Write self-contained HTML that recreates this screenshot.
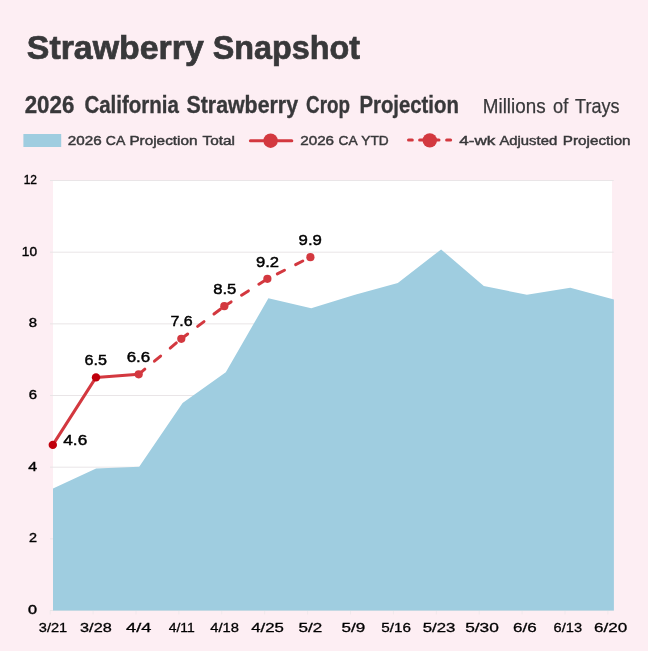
<!DOCTYPE html>
<html><head><meta charset="utf-8"><title>Strawberry Snapshot</title>
<style>
html,body{margin:0;padding:0;background:#fdeef3;}
body{width:648px;height:651px;overflow:hidden;font-family:"Liberation Sans",sans-serif;}
svg{display:block;will-change:transform;font-family:"Liberation Sans",sans-serif;}
</style></head><body>
<svg width="648" height="651" viewBox="0 0 648 651">
<rect x="0" y="0" width="648" height="651" fill="#fdeef3"/>
<text x="26.8" y="59.0" font-size="33" text-anchor="start" font-weight="bold" fill="#38383a" textLength="177.0" lengthAdjust="spacingAndGlyphs" stroke="#38383a" stroke-width="0.7">Strawberry</text>
<text x="212.8" y="59.0" font-size="33" text-anchor="start" font-weight="bold" fill="#38383a" textLength="147.2" lengthAdjust="spacingAndGlyphs" stroke="#38383a" stroke-width="0.7">Snapshot</text>
<text x="24.7" y="112.9" font-size="24" text-anchor="start" font-weight="bold" fill="#38383a" textLength="49.6" lengthAdjust="spacingAndGlyphs" stroke="#38383a" stroke-width="0.35">2026</text>
<text x="84.4" y="112.9" font-size="24" text-anchor="start" font-weight="bold" fill="#38383a" textLength="94.5" lengthAdjust="spacingAndGlyphs" stroke="#38383a" stroke-width="0.35">California</text>
<text x="186.5" y="112.9" font-size="24" text-anchor="start" font-weight="bold" fill="#38383a" textLength="111.5" lengthAdjust="spacingAndGlyphs" stroke="#38383a" stroke-width="0.35">Strawberry</text>
<text x="306.1" y="112.9" font-size="24" text-anchor="start" font-weight="bold" fill="#38383a" textLength="43.9" lengthAdjust="spacingAndGlyphs" stroke="#38383a" stroke-width="0.35">Crop</text>
<text x="359.4" y="112.9" font-size="24" text-anchor="start" font-weight="bold" fill="#38383a" textLength="99.5" lengthAdjust="spacingAndGlyphs" stroke="#38383a" stroke-width="0.35">Projection</text>
<text x="482.8" y="112.7" font-size="20.5" text-anchor="start" font-weight="normal" fill="#38383a" textLength="62.8" lengthAdjust="spacingAndGlyphs" stroke="#38383a" stroke-width="0.25">Millions</text>
<text x="553.1" y="112.7" font-size="20.5" text-anchor="start" font-weight="normal" fill="#38383a" textLength="15.2" lengthAdjust="spacingAndGlyphs" stroke="#38383a" stroke-width="0.25">of</text>
<text x="575.1" y="112.7" font-size="20.5" text-anchor="start" font-weight="normal" fill="#38383a" textLength="44.4" lengthAdjust="spacingAndGlyphs" stroke="#38383a" stroke-width="0.25">Trays</text>
<rect x="23.4" y="134" width="37.8" height="13" fill="#9fcde0"/>
<text x="67.8" y="145.1" font-size="13.4" text-anchor="start" font-weight="normal" fill="#38383a" textLength="33.9" lengthAdjust="spacingAndGlyphs" stroke="#38383a" stroke-width="0.45">2026</text>
<text x="105.8" y="145.1" font-size="13.4" text-anchor="start" font-weight="normal" fill="#38383a" textLength="19.5" lengthAdjust="spacingAndGlyphs" stroke="#38383a" stroke-width="0.45">CA</text>
<text x="129.4" y="145.1" font-size="13.4" text-anchor="start" font-weight="normal" fill="#38383a" textLength="68.1" lengthAdjust="spacingAndGlyphs" stroke="#38383a" stroke-width="0.45">Projection</text>
<text x="202.5" y="145.1" font-size="13.4" text-anchor="start" font-weight="normal" fill="#38383a" textLength="32.5" lengthAdjust="spacingAndGlyphs" stroke="#38383a" stroke-width="0.45">Total</text>
<line x1="250.4" y1="140.7" x2="291.8" y2="140.7" stroke="#d3383f" stroke-width="3" stroke-linecap="round"/>
<circle cx="270.6" cy="140.7" r="7.2" fill="#d3383f"/>
<text x="300.2" y="145.1" font-size="13.4" text-anchor="start" font-weight="normal" fill="#38383a" textLength="33.9" lengthAdjust="spacingAndGlyphs" stroke="#38383a" stroke-width="0.45">2026</text>
<text x="338.5" y="145.1" font-size="13.4" text-anchor="start" font-weight="normal" fill="#38383a" textLength="19.1" lengthAdjust="spacingAndGlyphs" stroke="#38383a" stroke-width="0.45">CA</text>
<text x="361.3" y="145.1" font-size="13.4" text-anchor="start" font-weight="normal" fill="#38383a" textLength="27.4" lengthAdjust="spacingAndGlyphs" stroke="#38383a" stroke-width="0.45">YTD</text>
<line x1="408.5" y1="140" x2="412.3" y2="140" stroke="#d3383f" stroke-width="3" stroke-linecap="round"/>
<line x1="419.6" y1="140" x2="439.0" y2="140" stroke="#d3383f" stroke-width="3" stroke-linecap="round"/>
<line x1="446.6" y1="140" x2="450.6" y2="140" stroke="#d3383f" stroke-width="3" stroke-linecap="round"/>
<circle cx="429.8" cy="140.4" r="7.2" fill="#d3383f"/>
<text x="459.2" y="145.1" font-size="13.4" text-anchor="start" font-weight="normal" fill="#38383a" textLength="36.1" lengthAdjust="spacingAndGlyphs" stroke="#38383a" stroke-width="0.45">4-wk</text>
<text x="499.4" y="145.1" font-size="13.4" text-anchor="start" font-weight="normal" fill="#38383a" textLength="57.8" lengthAdjust="spacingAndGlyphs" stroke="#38383a" stroke-width="0.45">Adjusted</text>
<text x="562.8" y="145.1" font-size="13.4" text-anchor="start" font-weight="normal" fill="#38383a" textLength="67.8" lengthAdjust="spacingAndGlyphs" stroke="#38383a" stroke-width="0.45">Projection</text>
<rect x="53" y="180.5" width="559" height="430" fill="#ffffff"/>
<line x1="50" y1="610.50" x2="613.7" y2="610.50" stroke="#e9e5e7" stroke-width="1"/>
<line x1="50" y1="538.84" x2="613.7" y2="538.84" stroke="#e9e5e7" stroke-width="1"/>
<line x1="50" y1="467.18" x2="613.7" y2="467.18" stroke="#e9e5e7" stroke-width="1"/>
<line x1="50" y1="395.52" x2="613.7" y2="395.52" stroke="#e9e5e7" stroke-width="1"/>
<line x1="50" y1="323.86" x2="613.7" y2="323.86" stroke="#e9e5e7" stroke-width="1"/>
<line x1="50" y1="252.20" x2="613.7" y2="252.20" stroke="#e9e5e7" stroke-width="1"/>
<line x1="50" y1="180.54" x2="613.7" y2="180.54" stroke="#e9e5e7" stroke-width="1"/>
<line x1="50.20" y1="610.5" x2="50.20" y2="614.5" stroke="#e9e5e7" stroke-width="1" opacity="0.6"/>
<line x1="93.10" y1="610.5" x2="93.10" y2="614.5" stroke="#e9e5e7" stroke-width="1" opacity="0.6"/>
<line x1="136.00" y1="610.5" x2="136.00" y2="614.5" stroke="#e9e5e7" stroke-width="1" opacity="0.6"/>
<line x1="178.90" y1="610.5" x2="178.90" y2="614.5" stroke="#e9e5e7" stroke-width="1" opacity="0.6"/>
<line x1="221.80" y1="610.5" x2="221.80" y2="614.5" stroke="#e9e5e7" stroke-width="1" opacity="0.6"/>
<line x1="264.70" y1="610.5" x2="264.70" y2="614.5" stroke="#e9e5e7" stroke-width="1" opacity="0.6"/>
<line x1="307.60" y1="610.5" x2="307.60" y2="614.5" stroke="#e9e5e7" stroke-width="1" opacity="0.6"/>
<line x1="350.50" y1="610.5" x2="350.50" y2="614.5" stroke="#e9e5e7" stroke-width="1" opacity="0.6"/>
<line x1="393.40" y1="610.5" x2="393.40" y2="614.5" stroke="#e9e5e7" stroke-width="1" opacity="0.6"/>
<line x1="436.30" y1="610.5" x2="436.30" y2="614.5" stroke="#e9e5e7" stroke-width="1" opacity="0.6"/>
<line x1="479.20" y1="610.5" x2="479.20" y2="614.5" stroke="#e9e5e7" stroke-width="1" opacity="0.6"/>
<line x1="522.10" y1="610.5" x2="522.10" y2="614.5" stroke="#e9e5e7" stroke-width="1" opacity="0.6"/>
<line x1="565.00" y1="610.5" x2="565.00" y2="614.5" stroke="#e9e5e7" stroke-width="1" opacity="0.6"/>
<line x1="607.90" y1="610.5" x2="607.90" y2="614.5" stroke="#e9e5e7" stroke-width="1" opacity="0.6"/>
<polygon points="53,610.5 53.0,488.4 96.1,468.6 139.2,466.7 182.6,402.9 225.8,372.2 268.4,298.3 311.2,308.2 355.0,294.8 397.8,282.9 441.1,249.4 483.8,286.1 526.9,294.7 570.3,287.8 613.9,299.4 613.9,610.5" fill="#9fcde0"/>
<text x="37" y="184.04" font-size="13.4" text-anchor="end" font-weight="normal" fill="#000" textLength="13.3" lengthAdjust="spacingAndGlyphs" stroke="#000" stroke-width="0.4">12</text>
<text x="37" y="255.70" font-size="13.4" text-anchor="end" font-weight="normal" fill="#000" textLength="15.2" lengthAdjust="spacingAndGlyphs" stroke="#000" stroke-width="0.4">10</text>
<text x="37" y="327.36" font-size="13.4" text-anchor="end" font-weight="normal" fill="#000" textLength="8.3" lengthAdjust="spacingAndGlyphs" stroke="#000" stroke-width="0.4">8</text>
<text x="37" y="399.02" font-size="13.4" text-anchor="end" font-weight="normal" fill="#000" textLength="8.3" lengthAdjust="spacingAndGlyphs" stroke="#000" stroke-width="0.4">6</text>
<text x="37" y="470.68" font-size="13.4" text-anchor="end" font-weight="normal" fill="#000" textLength="8.8" lengthAdjust="spacingAndGlyphs" stroke="#000" stroke-width="0.4">4</text>
<text x="37" y="542.34" font-size="13.4" text-anchor="end" font-weight="normal" fill="#000" textLength="8.0" lengthAdjust="spacingAndGlyphs" stroke="#000" stroke-width="0.4">2</text>
<text x="37" y="614.00" font-size="13.4" text-anchor="end" font-weight="normal" fill="#000" textLength="9.0" lengthAdjust="spacingAndGlyphs" stroke="#000" stroke-width="0.4">0</text>
<text x="53.00" y="632.3" font-size="13.4" text-anchor="middle" font-weight="normal" fill="#000" textLength="28.4" lengthAdjust="spacingAndGlyphs" stroke="#000" stroke-width="0.3">3/21</text>
<text x="95.90" y="632.3" font-size="13.4" text-anchor="middle" font-weight="normal" fill="#000" textLength="31.7" lengthAdjust="spacingAndGlyphs" stroke="#000" stroke-width="0.3">3/28</text>
<text x="138.80" y="632.3" font-size="13.4" text-anchor="middle" font-weight="normal" fill="#000" textLength="25.4" lengthAdjust="spacingAndGlyphs" stroke="#000" stroke-width="0.3">4/4</text>
<text x="181.70" y="632.3" font-size="13.4" text-anchor="middle" font-weight="normal" fill="#000" textLength="26.099999999999998" lengthAdjust="spacingAndGlyphs" stroke="#000" stroke-width="0.3">4/11</text>
<text x="224.60" y="632.3" font-size="13.4" text-anchor="middle" font-weight="normal" fill="#000" textLength="28.7" lengthAdjust="spacingAndGlyphs" stroke="#000" stroke-width="0.3">4/18</text>
<text x="267.50" y="632.3" font-size="13.4" text-anchor="middle" font-weight="normal" fill="#000" textLength="32.699999999999996" lengthAdjust="spacingAndGlyphs" stroke="#000" stroke-width="0.3">4/25</text>
<text x="310.40" y="632.3" font-size="13.4" text-anchor="middle" font-weight="normal" fill="#000" textLength="23.7" lengthAdjust="spacingAndGlyphs" stroke="#000" stroke-width="0.3">5/2</text>
<text x="353.30" y="632.3" font-size="13.4" text-anchor="middle" font-weight="normal" fill="#000" textLength="23.7" lengthAdjust="spacingAndGlyphs" stroke="#000" stroke-width="0.3">5/9</text>
<text x="396.20" y="632.3" font-size="13.4" text-anchor="middle" font-weight="normal" fill="#000" textLength="29.7" lengthAdjust="spacingAndGlyphs" stroke="#000" stroke-width="0.3">5/16</text>
<text x="439.10" y="632.3" font-size="13.4" text-anchor="middle" font-weight="normal" fill="#000" textLength="32.699999999999996" lengthAdjust="spacingAndGlyphs" stroke="#000" stroke-width="0.3">5/23</text>
<text x="482.00" y="632.3" font-size="13.4" text-anchor="middle" font-weight="normal" fill="#000" textLength="33.699999999999996" lengthAdjust="spacingAndGlyphs" stroke="#000" stroke-width="0.3">5/30</text>
<text x="524.90" y="632.3" font-size="13.4" text-anchor="middle" font-weight="normal" fill="#000" textLength="23.7" lengthAdjust="spacingAndGlyphs" stroke="#000" stroke-width="0.3">6/6</text>
<text x="567.80" y="632.3" font-size="13.4" text-anchor="middle" font-weight="normal" fill="#000" textLength="28.4" lengthAdjust="spacingAndGlyphs" stroke="#000" stroke-width="0.3">6/13</text>
<text x="610.70" y="632.3" font-size="13.4" text-anchor="middle" font-weight="normal" fill="#000" textLength="33.199999999999996" lengthAdjust="spacingAndGlyphs" stroke="#000" stroke-width="0.3">6/20</text>
<polyline points="52.8,444.9 96.0,377.4 138.7,374.3" fill="none" stroke="#d3383f" stroke-width="3" stroke-linejoin="round" stroke-linecap="round"/>
<line x1="138.7" y1="374.3" x2="181.3" y2="338.8" stroke="#d3383f" stroke-width="3" stroke-linecap="round" stroke-dasharray="8 12.5"/>
<line x1="181.3" y1="338.8" x2="224.3" y2="306.2" stroke="#d3383f" stroke-width="3" stroke-linecap="round" stroke-dasharray="8 12.5"/>
<line x1="224.3" y1="306.2" x2="267.4" y2="278.8" stroke="#d3383f" stroke-width="3" stroke-linecap="round" stroke-dasharray="8 12.5"/>
<line x1="267.4" y1="278.8" x2="310.4" y2="257.2" stroke="#d3383f" stroke-width="3" stroke-linecap="round" stroke-dasharray="8 12.5" stroke-dashoffset="-11.1"/>
<circle cx="52.8" cy="444.9" r="4.2" fill="#c0000c"/>
<circle cx="96.0" cy="377.4" r="4.2" fill="#c0000c"/>
<circle cx="138.7" cy="374.3" r="4.1" fill="#d3383f"/>
<circle cx="181.3" cy="338.8" r="4.1" fill="#d3383f"/>
<circle cx="224.3" cy="306.2" r="4.1" fill="#d3383f"/>
<circle cx="267.4" cy="278.8" r="4.1" fill="#d3383f"/>
<circle cx="310.4" cy="257.2" r="4.1" fill="#d3383f"/>
<text x="63.3" y="444.5" font-size="15.4" text-anchor="start" font-weight="normal" fill="#000" textLength="23.9" lengthAdjust="spacingAndGlyphs" stroke="#000" stroke-width="0.45">4.6</text>
<text x="84.5" y="365.2" font-size="15.4" text-anchor="start" font-weight="normal" fill="#000" textLength="22.4" lengthAdjust="spacingAndGlyphs" stroke="#000" stroke-width="0.45">6.5</text>
<text x="126.7" y="361.8" font-size="15.4" text-anchor="start" font-weight="normal" fill="#000" textLength="23.6" lengthAdjust="spacingAndGlyphs" stroke="#000" stroke-width="0.45">6.6</text>
<text x="170.4" y="326.0" font-size="15.4" text-anchor="start" font-weight="normal" fill="#000" textLength="22.2" lengthAdjust="spacingAndGlyphs" stroke="#000" stroke-width="0.45">7.6</text>
<text x="213.2" y="293.8" font-size="15.4" text-anchor="start" font-weight="normal" fill="#000" textLength="23.2" lengthAdjust="spacingAndGlyphs" stroke="#000" stroke-width="0.45">8.5</text>
<text x="256.0" y="267.1" font-size="15.4" text-anchor="start" font-weight="normal" fill="#000" textLength="23.1" lengthAdjust="spacingAndGlyphs" stroke="#000" stroke-width="0.45">9.2</text>
<text x="298.6" y="245.1" font-size="15.4" text-anchor="start" font-weight="normal" fill="#000" textLength="23.3" lengthAdjust="spacingAndGlyphs" stroke="#000" stroke-width="0.45">9.9</text>
</svg></body></html>
